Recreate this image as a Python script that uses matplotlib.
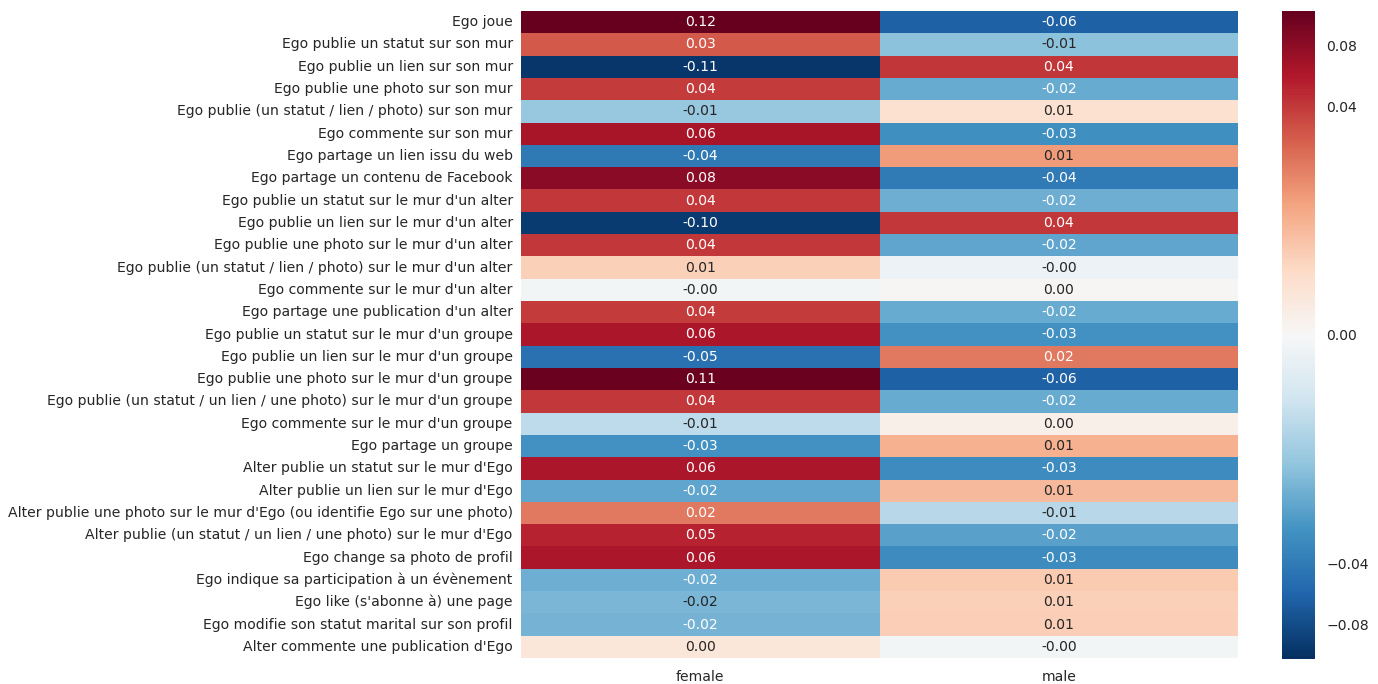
import numpy as np
import pandas as pd
import matplotlib
matplotlib.use("Agg")
import matplotlib.pyplot as plt
import matplotlib.colors as mcolors
from matplotlib.ticker import FuncFormatter
import seaborn as sns

activities = [
    "Ego joue",
    "Ego publie un statut sur son mur",
    "Ego publie un lien sur son mur",
    "Ego publie une photo sur son mur",
    "Ego publie (un statut / lien / photo) sur son mur",
    "Ego commente sur son mur",
    "Ego partage un lien issu du web",
    "Ego partage un contenu de Facebook",
    "Ego publie un statut sur le mur d'un alter",
    "Ego publie un lien sur le mur d'un alter",
    "Ego publie une photo sur le mur d'un alter",
    "Ego publie (un statut / lien / photo) sur le mur d'un alter",
    "Ego commente sur le mur d'un alter",
    "Ego partage une publication d'un alter",
    "Ego publie un statut sur le mur d'un groupe",
    "Ego publie un lien sur le mur d'un groupe",
    "Ego publie une photo sur le mur d'un groupe",
    "Ego publie (un statut / un lien / une photo) sur le mur d'un groupe",
    "Ego commente sur le mur d'un groupe",
    "Ego partage un groupe",
    "Alter publie un statut sur le mur d'Ego",
    "Alter publie un lien sur le mur d'Ego",
    "Alter publie une photo sur le mur d'Ego (ou identifie Ego sur une photo)",
    "Alter publie (un statut / un lien / une photo) sur le mur d'Ego",
    "Ego change sa photo de profil",
    "Ego indique sa participation à un évènement",
    "Ego like (s'abonne à) une page",
    "Ego modifie son statut marital sur son profil",
    "Alter commente une publication d'Ego",
]
genders = ["female", "male"]

female = [0.118, 0.029, -0.108, 0.039, -0.013, 0.062, -0.042, 0.083, 0.040, -0.100,
          0.040, 0.008, -0.001, 0.039, 0.061, -0.047, 0.112, 0.040, -0.009, -0.028,
          0.061, -0.021, 0.021, 0.050, 0.061, -0.018, -0.016, -0.017, 0.004]
male = [-0.060, -0.014, 0.042, -0.019, 0.0055, -0.029, 0.0145, -0.040, -0.018, 0.040,
        -0.021, -0.002, 0.0005, -0.019, -0.028, 0.021, -0.060, -0.019, 0.002, 0.012,
        -0.030, 0.011, -0.0095, -0.022, -0.030, 0.009, 0.008, 0.0085, -0.001]

cbar_ticks = [-0.08, -0.04, 0.0, 0.04, 0.08]

sns.set_theme(style="darkgrid")
plt.rcParams['font.family'] = ['DejaVu Sans']

df = pd.DataFrame({genders[0]: female, genders[1]: male}, index=activities)
vmax = float(np.abs(df.values).max())
norm = mcolors.SymLogNorm(linthresh=0.0147, linscale=1.0, base=np.e,
                          vmin=-vmax, vmax=vmax)

W, H = 1378, 684
fig = plt.figure(figsize=(W / 100, H / 100), dpi=100)
fig.patch.set_facecolor("white")
ax = fig.add_axes([521 / W, 1 - 658 / H, (1238 - 521) / W, (658 - 11) / H])
cax = fig.add_axes([1282 / W, 1 - 659 / H, 33 / W, 648 / H])


def fmt_tick(x, pos):
    s = f"{x:.2f}"
    if s == "-0.00":
        s = "0.00"
    return s.replace("-", "\u2212")


FS = 10.1
sns.heatmap(df, ax=ax, cbar_ax=cax, cmap="RdBu_r", norm=norm,
            annot=True, fmt=".2f", annot_kws={"size": FS},
            cbar_kws={"ticks": cbar_ticks, "format": FuncFormatter(fmt_tick)})

ax.tick_params(axis="y", length=0, pad=6, labelsize=FS, labelcolor="#262626")
ax.tick_params(axis="x", length=0, pad=8.5, labelsize=FS, labelcolor="#262626")
for t in ax.get_yticklabels():
    t.set_rotation(0)
cax.tick_params(length=0, pad=8, labelsize=FS, labelcolor="#262626")
cax.minorticks_off()

fig.savefig("out.png", dpi=100, facecolor="white")
